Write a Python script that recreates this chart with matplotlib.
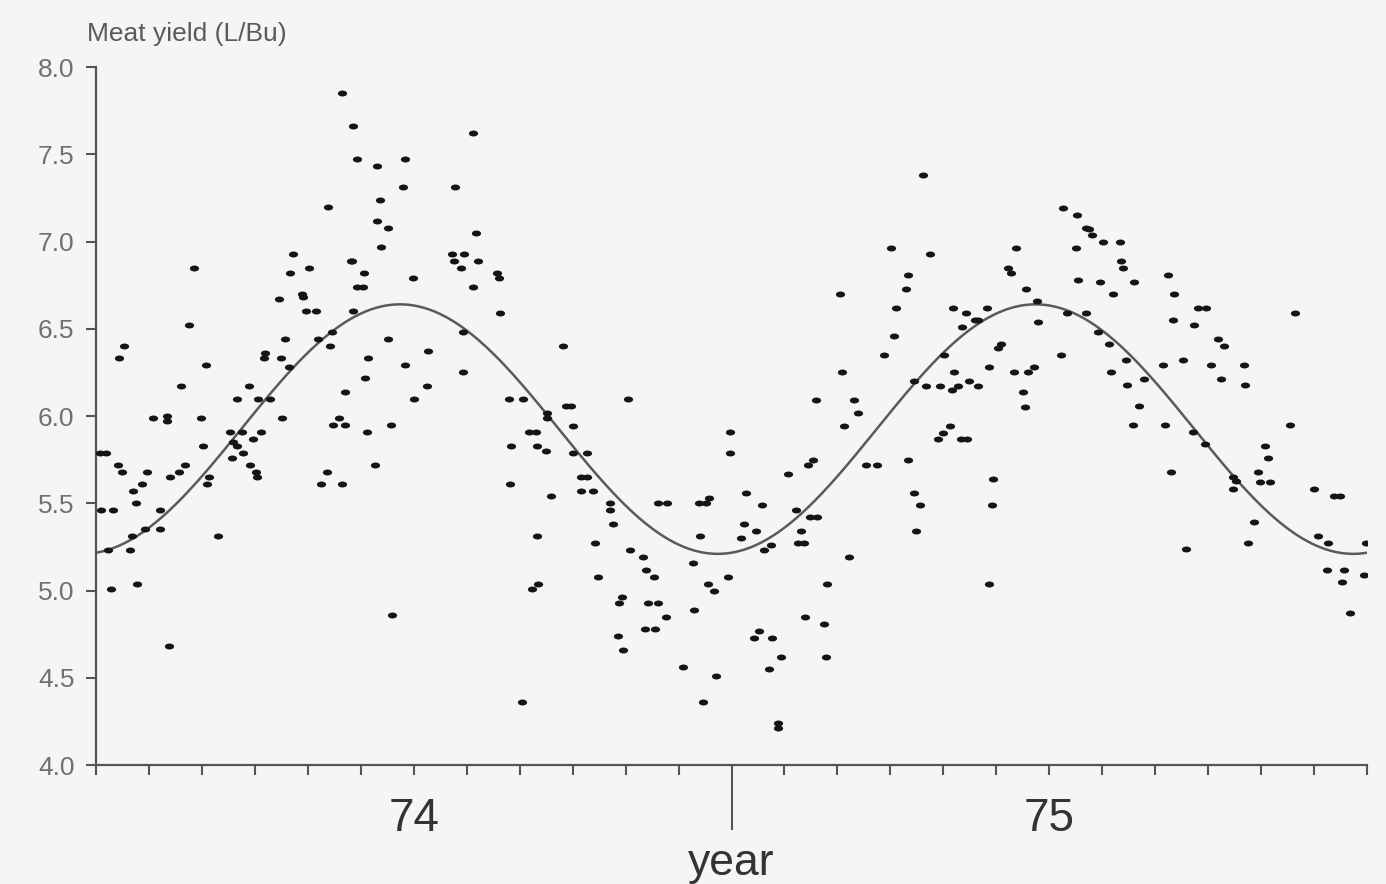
"""Seasonal meat yield (L/Bu), 1974-75, with fitted annual sine curve."""
import matplotlib
matplotlib.use("Agg")
import matplotlib.pyplot as plt
import numpy as np
from matplotlib.markers import MarkerStyle
from matplotlib.transforms import Affine2D

plt.rcParams["font.family"] = ["Liberation Sans", "DejaVu Sans"]

# months since start of 1974 (0..24) and yield for each sample
MONTH = [
    0.08, 0.19, 0.43, 0.53, 0.42, 0.49, 0.09, 0.32, 0.23, 0.28, 0.64, 0.68, 0.70, 0.76,
    0.87, 0.96, 0.77, 0.93, 1.21, 1.21, 1.08, 1.34, 1.34, 1.61, 1.76, 1.85, 2.08, 1.40,
    1.57, 1.68, 1.38, 1.98, 2.02, 2.14, 2.10, 2.31, 2.53, 2.76, 2.59, 2.66, 2.66, 2.57,
    2.78, 2.89, 2.97, 2.91, 3.02, 3.04, 3.12, 3.06, 3.29, 3.51, 3.19, 3.17, 3.50, 3.57,
    3.65, 3.46, 3.67, 3.72, 4.02, 3.89, 3.91, 3.97, 4.16, 4.20, 4.46, 4.42, 4.86, 4.84,
    5.06, 4.93, 5.05, 5.14, 5.08, 4.71, 4.59, 4.48, 4.71, 5.12, 5.27, 4.37, 4.25, 4.65,
    5.57, 5.52, 5.84, 6.01, 6.25, 6.27, 5.99, 5.59,
    4.65, 4.86, 4.93, 5.31, 5.84, 5.80, 5.37, 4.38, 5.31, 5.52, 5.39, 4.82, 7.11, 6.78,
    7.18, 6.73, 6.75, 6.95, 6.90, 7.22, 7.58, 7.60, 7.12, 7.62, 6.93, 6.93, 7.79, 8.07,
    10.05, 8.52, 8.52, 8.88, 8.96, 9.01, 8.18, 8.31, 7.84, 8.33, 8.50, 9.01, 9.28, 7.82,
    8.60, 9.16, 9.28, 9.15, 9.39, 9.71, 9.71, 9.77, 8.33, 9.43, 10.09, 10.32, 10.39, 10.53,
    9.47, 8.35, 8.24, 9.94, 9.88, 10.43, 10.62, 10.77, 10.37, 10.56, 9.86, 9.96, 8.05, 11.09,
    11.70, 11.47, 10.62, 10.79, 11.38, 11.51, 11.58, 11.98, 11.98, 12.28, 12.57, 11.41, 11.28, 11.56,
    11.66, 11.94, 12.24, 12.47, 12.17, 12.74, 12.62, 13.06, 11.30, 12.51, 12.42, 12.77, 12.93, 12.70,
    12.87, 12.87, 8.81,
    15.61, 15.02, 15.74, 14.04, 15.34, 15.29, 15.10, 15.06, 14.87, 14.08, 13.59, 14.32, 14.38, 14.13,
    13.53, 13.44, 14.53, 14.74, 13.21, 13.49, 13.62, 13.32, 13.25, 13.36, 14.21, 13.81, 13.38, 13.74,
    13.78, 15.33, 15.44, 15.55, 15.48, 15.44, 15.68, 15.93, 16.21, 16.16, 16.27, 16.02, 16.19, 16.42,
    16.36, 16.59, 16.65, 16.82, 16.48, 16.65, 15.89, 15.99, 16.12, 16.33, 16.44, 16.87, 16.93, 16.91,
    16.86, 17.08, 17.04, 17.33, 17.59, 17.72, 17.50, 17.55, 17.37, 17.23, 17.27, 17.57, 17.76, 17.78,
    18.22, 18.33, 18.25, 18.52, 18.50, 18.54,
    18.69, 18.75, 18.80, 19.01, 19.33, 19.35, 19.39, 18.95, 19.60, 19.20, 20.24, 20.35, 18.69, 20.81,
    20.96, 20.33, 20.73, 22.64, 18.92, 19.12, 21.18, 21.30, 19.16, 19.44, 20.14, 20.52, 21.05, 21.67,
    21.24, 19.46, 19.78, 21.69, 19.69, 19.58, 20.18, 20.71, 20.94, 22.54, 20.29, 21.47, 21.52, 21.47,
    21.94, 21.98, 22.17, 22.07, 22.13, 23.00, 23.37, 23.49, 21.86, 21.75, 20.58, 23.07, 23.26, 23.98,
    23.24, 23.56, 23.53, 23.94, 23.68,
]
YIELD = [
    5.79, 5.79, 6.33, 6.40, 5.72, 5.68, 5.46, 5.46, 5.23, 5.01, 5.23, 5.31, 5.57, 5.50,
    5.61, 5.68, 5.04, 5.35, 5.35, 5.46, 5.99, 6.00, 5.97, 6.17, 6.52, 6.85, 6.29, 5.65,
    5.68, 5.72, 4.68, 5.99, 5.83, 5.65, 5.61, 5.31, 5.91, 5.91, 5.85, 5.83, 6.10, 5.76,
    5.79, 6.17, 5.87, 5.72, 5.68, 5.65, 5.91, 6.10, 6.10, 5.99, 6.36, 6.33, 6.33, 6.44,
    6.28, 6.67, 6.82, 6.93, 6.85, 6.70, 6.68, 6.60, 6.60, 6.44, 6.48, 6.40, 6.60, 6.89,
    6.82, 6.74, 6.74, 6.33, 6.22, 6.14, 5.99, 5.95, 5.95, 5.91, 5.72, 5.68, 5.61, 5.61,
    5.95, 6.44, 6.29, 6.10, 6.17, 6.37, 6.79, 4.86,
    7.85, 7.66, 7.47, 7.43, 7.47, 7.31, 7.24, 7.20, 7.12, 7.08, 6.97, 6.89, 7.62, 7.31,
    7.05, 6.93, 6.89, 6.93, 6.85, 6.89, 6.82, 6.79, 6.74, 6.59, 6.48, 6.25, 6.10, 6.10,
    6.10, 6.02, 5.99, 6.06, 6.06, 5.94, 5.91, 5.91, 5.83, 5.83, 5.80, 5.79, 5.79, 5.61,
    5.54, 5.65, 5.65, 5.57, 5.57, 5.50, 5.46, 5.38, 5.31, 5.27, 5.23, 5.19, 5.12, 5.08,
    5.08, 5.04, 5.01, 4.96, 4.93, 4.93, 4.93, 4.85, 4.78, 4.78, 4.74, 4.66, 4.36, 4.56,
    4.51, 4.36, 5.50, 5.50, 5.50, 5.50, 5.53, 5.91, 5.79, 5.56, 5.49, 5.31, 5.16, 5.04,
    5.00, 5.08, 5.38, 5.34, 5.30, 5.26, 5.23, 5.67, 4.89, 4.77, 4.73, 4.73, 4.62, 4.55,
    4.24, 4.21, 6.40,
    7.38, 6.96, 6.93, 6.70, 6.81, 6.73, 6.62, 6.46, 6.35, 6.25, 6.09, 6.09, 6.02, 5.94,
    5.75, 5.72, 5.72, 5.72, 5.46, 5.42, 5.42, 5.34, 5.27, 5.27, 5.19, 5.04, 4.85, 4.81,
    4.62, 5.75, 5.56, 5.49, 5.34, 6.20, 6.17, 6.17, 6.25, 6.15, 6.17, 6.35, 6.62, 6.59,
    6.51, 6.55, 6.55, 6.62, 6.20, 6.17, 5.87, 5.90, 5.94, 5.87, 5.87, 6.28, 5.64, 5.49,
    5.04, 6.41, 6.39, 6.25, 6.25, 6.28, 6.14, 6.05, 6.96, 6.85, 6.82, 6.73, 6.66, 6.54,
    6.35, 6.59, 7.19, 7.15, 6.96, 6.78,
    7.08, 7.07, 7.04, 7.00, 7.00, 6.89, 6.85, 6.77, 6.77, 6.70, 6.81, 6.70, 6.59, 6.62,
    6.62, 6.55, 6.52, 6.59, 6.48, 6.41, 6.44, 6.40, 6.25, 6.32, 6.29, 6.32, 6.29, 6.29,
    6.21, 6.18, 6.21, 6.18, 6.06, 5.95, 5.95, 5.91, 5.84, 5.95, 5.68, 5.65, 5.63, 5.58,
    5.68, 5.62, 5.62, 5.83, 5.76, 5.58, 5.54, 5.54, 5.39, 5.27, 5.24, 5.31, 5.27, 5.27,
    5.12, 5.12, 5.05, 5.09, 4.87,
]

# fitted seasonal curve: mean level, half-range, month of the peak, period
CURVE_MEAN = 5.925
CURVE_AMP = 0.715
CURVE_PEAK = 5.74
CURVE_PERIOD = 12.0

YEAR_LABELS = ["74", "75"]
YEAR_LABEL_POS = [6, 18]
YEAR_BREAK = 12
Y_TICKS = [4.0, 4.5, 5.0, 5.5, 6.0, 6.5, 7.0, 7.5, 8.0]

BG = "#f6f5f6"
AX_COLOR = "#555555"


def main():
    fig = plt.figure(figsize=(13.86, 8.84), dpi=100, facecolor=BG)
    ax = fig.add_axes([0.0693, 0.1346, 0.9170, 0.7896])
    ax.set_facecolor(BG)

    t = np.linspace(0, 24, 600)
    curve = CURVE_MEAN + CURVE_AMP * np.cos(2 * np.pi * (t - CURVE_PEAK) / CURVE_PERIOD)
    ax.plot(t, curve, color="#5a5a5a", lw=1.8, zorder=2)

    dash = MarkerStyle("o", transform=Affine2D().scale(1.55, 1.0))
    ax.plot(MONTH, YIELD, ls="none", marker=dash, ms=4.3, color="#151515",
            mec="none", zorder=3)

    ax.set_xlim(0, 24)
    ax.set_ylim(4.0, 8.0)

    for side in ("top", "right"):
        ax.spines[side].set_visible(False)
    for side in ("left", "bottom"):
        ax.spines[side].set_color(AX_COLOR)
        ax.spines[side].set_linewidth(1.6)

    ax.set_yticks(Y_TICKS)
    ax.set_yticklabels([f"{v:.1f}" for v in Y_TICKS])
    ax.tick_params(axis="y", direction="out", length=7.5, width=1.5, color=AX_COLOR,
                   labelcolor="#707070", labelsize=19, pad=8)

    ax.set_xticks([YEAR_BREAK])
    ax.set_xticklabels([""])
    ax.set_xticks(range(0, 25), minor=True)
    ax.tick_params(axis="x", which="major", direction="out", length=47, width=1.5,
                   color=AX_COLOR)
    ax.tick_params(axis="x", which="minor", direction="out", length=7, width=1.5,
                   color=AX_COLOR)

    xt = ax.get_xaxis_transform()
    for lab, pos in zip(YEAR_LABELS, YEAR_LABEL_POS):
        ax.text(pos, -0.077, lab, transform=xt, ha="center", va="center",
                fontsize=33, color="#333333")
    ax.text(YEAR_BREAK, -0.112, "year", transform=xt, ha="center", va="top",
            fontsize=32, color="#333333")

    ax.text(-0.007, 1.047, "Meat yield (L/Bu)", transform=ax.transAxes,
            ha="left", va="center", fontsize=19, color="#5a5a5a")

    fig.savefig("out.png", dpi=100, facecolor=BG)


if __name__ == "__main__":
    main()
